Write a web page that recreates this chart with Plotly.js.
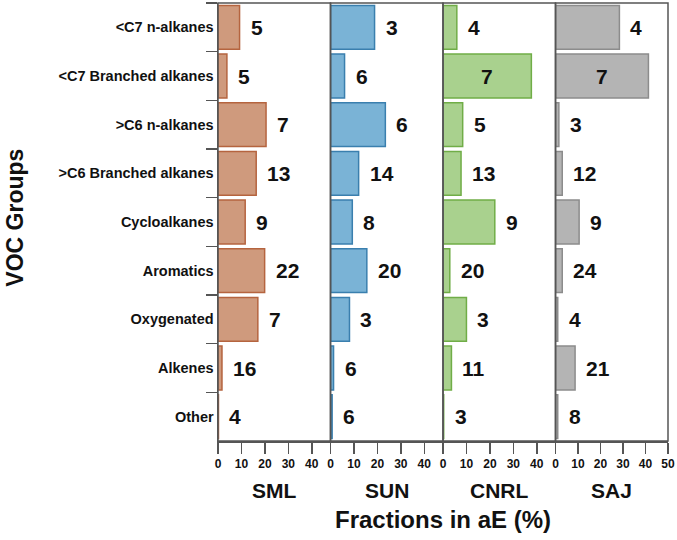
<!DOCTYPE html>
<html>
<head>
<meta charset="utf-8">
<script src="https://cdn.plot.ly/plotly-3.0.1.min.js"></script>
<style>
  body { margin: 0; background: #fff; }
  #plot { width: 677px; height: 540px; }
</style>
</head>
<body>
<div id="plot"></div>
<script>
// VOC groups, top to bottom
const groups = ["<C7 n-alkanes", "<C7 Branched alkanes", ">C6 n-alkanes", ">C6 Branched alkanes",
  "Cycloalkanes", "Aromatics", "Oxygenated", "Alkenes", "Other"];

const sites = ["SML", "SUN", "CNRL", "SAJ"];

// fractions in aE (%)
const smlFrac = [9.2, 3.8, 20.5, 16.3, 11.6, 19.9, 17.0, 1.7, 0.2];
const sunFrac = [18.8, 6.0, 23.4, 12.0, 9.3, 15.5, 8.1, 1.3, 0.7];
const cnrlFrac = [5.9, 37.7, 8.4, 7.7, 22.1, 2.9, 10.0, 3.6, 0.3];
const sajFrac = [28.4, 41.3, 1.5, 3.0, 10.5, 3.0, 1.0, 8.7, 1.0];

// numbers printed next to each bar
const smlNum = [5, 5, 7, 13, 9, 22, 7, 16, 4];
const sunNum = [3, 6, 6, 14, 8, 20, 3, 6, 6];
const cnrlNum = [4, 7, 5, 13, 9, 20, 3, 11, 3];
const sajNum = [4, 7, 3, 12, 9, 24, 4, 21, 8];

const fracs = [smlFrac, sunFrac, cnrlFrac, sajFrac];
const nums = [smlNum, sunNum, cnrlNum, sajNum];
const fills = ["#cf9a7d", "#7ab3d6", "#a9d18e", "#b4b4b4"];
const edges = ["#b5643f", "#3a7fae", "#70ad47", "#8c8c8c"];
const xMax = [48, 48, 48, 50];
const xTicks = [[0, 10, 20, 30, 40], [0, 10, 20, 30, 40], [0, 10, 20, 30, 40], [0, 10, 20, 30, 40, 50]];

const font = "Liberation Sans, Arial, sans-serif";
const axisColor = "#555555";

const traces = [];
const annotations = [];
const shapes = [];
const layout = {
  width: 677,
  height: 540,
  margin: { l: 218, r: 9, t: 3, b: 99 },
  paper_bgcolor: "white",
  plot_bgcolor: "white",
  showlegend: false,
  font: { family: font, color: "#111" },
  yaxis: {
    type: "category",
    categoryorder: "array",
    categoryarray: groups,
    autorange: "reversed",
    tickson: "boundaries",
    ticks: "outside",
    ticklen: 11,
    tickwidth: 1.5,
    tickcolor: axisColor,
    showline: true,
    linecolor: axisColor,
    linewidth: 1.5,
    showgrid: false,
    tickfont: { family: font, size: 14.5, weight: "bold", color: "#111" },
    anchor: "x"
  }
};

sites.forEach(function (site, i) {
  const ax = i === 0 ? "x" : "x" + (i + 1);
  const axKey = i === 0 ? "xaxis" : "xaxis" + (i + 1);
  traces.push({
    type: "bar",
    orientation: "h",
    y: groups,
    x: fracs[i],
    xaxis: ax,
    yaxis: "y",
    width: 0.9,
    marker: { color: fills[i], line: { color: edges[i], width: 1.5 } },
    hoverinfo: "x+y"
  });
  layout[axKey] = {
    domain: [i * 0.25, (i + 1) * 0.25],
    range: [0, xMax[i]],
    anchor: "y",
    tickvals: xTicks[i],
    ticks: "outside",
    ticklen: 11,
    tickwidth: 1.5,
    tickcolor: axisColor,
    showline: true,
    linecolor: axisColor,
    linewidth: 1.5,
    showgrid: false,
    zeroline: false,
    tickfont: { family: font, size: 12, weight: "bold", color: "#111" }
  };
  // panel frame
  shapes.push({
    type: "rect", xref: "paper", yref: "paper",
    x0: i * 0.25, x1: (i + 1) * 0.25, y0: 0, y1: 1,
    line: { color: axisColor, width: 1.5 }
  });
  // site name under each panel
  annotations.push({
    xref: "paper", yref: "paper",
    x: i * 0.25 + 0.125, y: -0.112,
    xanchor: "center", yanchor: "middle", showarrow: false,
    text: "<b>" + site + "</b>",
    font: { family: font, size: 21, color: "#111" }
  });
  // numbers next to bars
  fracs[i].forEach(function (v, j) {
    const inside = v > 35;
    annotations.push({
      xref: ax, yref: "y",
      x: inside ? v / 2 : v, y: groups[j],
      xanchor: inside ? "center" : "left",
      xshift: inside ? 0 : 9,
      showarrow: false,
      text: "<b>" + nums[i][j] + "</b>",
      font: { family: font, size: 21, color: "#111" }
    });
  });
});

annotations.push({
  xref: "paper", yref: "paper",
  x: 0.5, y: -0.18, xanchor: "center", yanchor: "middle", showarrow: false,
  text: "<b>Fractions in aE (%)</b>",
  font: { family: font, size: 24, color: "#111" }
});
annotations.push({
  xref: "paper", yref: "paper",
  x: -0.451, y: 0.51, xanchor: "center", yanchor: "middle",
  textangle: -90, showarrow: false,
  text: "<b>VOC Groups</b>",
  font: { family: font, size: 23, color: "#111" }
});

layout.annotations = annotations;
layout.shapes = shapes;

Plotly.newPlot("plot", traces, layout, { displayModeBar: false, staticPlot: true });
</script>
</body>
</html>
